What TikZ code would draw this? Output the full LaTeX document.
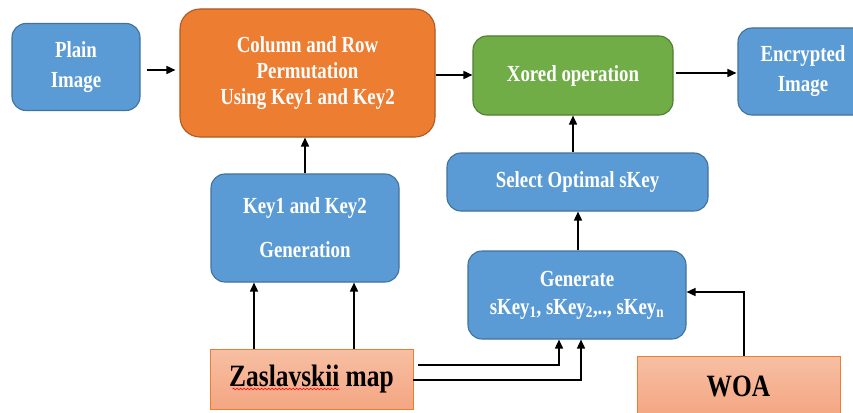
\documentclass[tikz,border=0pt]{standalone}
\usepackage{fontspec}
\setmainfont{Liberation Serif}[FakeStretch=0.82]
\usetikzlibrary{arrows.meta,decorations.pathmorphing,calc}
\definecolor{bluefill}{HTML}{5B9BD5}
\definecolor{blueline}{HTML}{41719C}
\definecolor{orfill}{HTML}{ED7D31}
\definecolor{orline}{HTML}{AE5A21}
\definecolor{grfill}{HTML}{70AD47}
\definecolor{grline}{HTML}{507E32}
\definecolor{salmtop}{HTML}{F7BFA3}
\definecolor{salmbot}{HTML}{F4A682}
\tikzset{
  box/.style={rectangle, rounded corners=14pt, line width=1.1pt, inner sep=0pt, align=center,
    text=white, font=\bfseries\fontsize{23}{26}\selectfont},
  bluebox/.style={box, fill=bluefill, draw=blueline},
  orbox/.style={box, fill=orfill, draw=orline, rounded corners=20pt},
  grbox/.style={box, fill=grfill, draw=grline},
  srcbox/.style={rectangle, inner sep=0pt, line width=0.9pt, draw=orfill, top color=salmtop, bottom color=salmbot,
    text=black, font=\bfseries\fontsize{31}{34}\selectfont},
  arr/.style={line width=1.6pt, -{Triangle[length=9pt,width=8pt]}},
}
\begin{document}
\begin{tikzpicture}[x=1pt,y=-1pt]
\useasboundingbox (0,0) rectangle (853,412);
\clip (0,0) rectangle (853,412);
\fill[white] (0,0) rectangle (853,412);

\node[bluebox, minimum width=128pt, minimum height=87pt] (plain) at (76,67) {Plain\\[4pt]Image};
\node[orbox, minimum width=255pt, minimum height=128pt] (perm) at (307.5,73) {Column and Row\\Permutation\\Using Key1 and Key2};
\node[grbox, minimum width=200pt, minimum height=79pt] (xor) at (573,75.5) {Xored operation};
\node[bluebox, minimum width=130pt, minimum height=87pt] (enc) at (803,71.5) {Encrypted\\[4pt]Image};
\node[bluebox, minimum width=188pt, minimum height=108pt] (key) at (305,228) {Key1 and Key2\\[18pt]Generation};
\node[bluebox, minimum width=261pt, minimum height=58pt] (sel) at (577.5,182) {Select Optimal sKey};
\node[bluebox, minimum width=218pt, minimum height=88pt] (gen) at (577,295) {Generate\\[2pt]sKey\textsubscript{1}, sKey\textsubscript{2},.., sKey\textsubscript{n}};
\node[srcbox, minimum width=203pt, minimum height=60pt] (zas) at (311.5,379) {Zaslavskii map};
\node[srcbox, minimum width=203pt, minimum height=60pt] (woa) at (738.5,386) {WOA};

\draw[red, line width=0.6pt, decorate, decoration={snake,amplitude=0.8pt,segment length=3.5pt}]
  ($(zas.center)+(-79,10)$) -- ++(107,0);

\draw[arr] ($(plain.east)+(6,3)$) -- ($(perm.west)+(-4,-3)$);
\draw[arr] (perm.east |- 0,75) -- (xor.west |- 0,75);
\draw[arr] ($(xor.east)+(2,-2.5)$) -- ($(enc.west)+(-1,1.5)$);
\draw[arr] (key.north -| 305,0) -- (perm.south -| 305,0);
\draw[arr] (sel.north -| 573,0) -- (xor.south -| 573,0);
\draw[arr] (gen.north -| 578,0) -- (sel.south -| 578,0);
\draw[arr] (zas.north -| 254,0) -- (key.south -| 254,0);
\draw[arr] (zas.north -| 354,0) -- (key.south -| 354,0);
\draw[arr] ($(zas.east |- 0,365)+(5,0)$) -| (gen.south -| 559,0);
\draw[arr] (zas.east |- 0,380) -| (gen.south -| 581,0);
\draw[arr] (woa.north -| 744,0) |- (gen.east |- 0,292);
\end{tikzpicture}
\end{document}
